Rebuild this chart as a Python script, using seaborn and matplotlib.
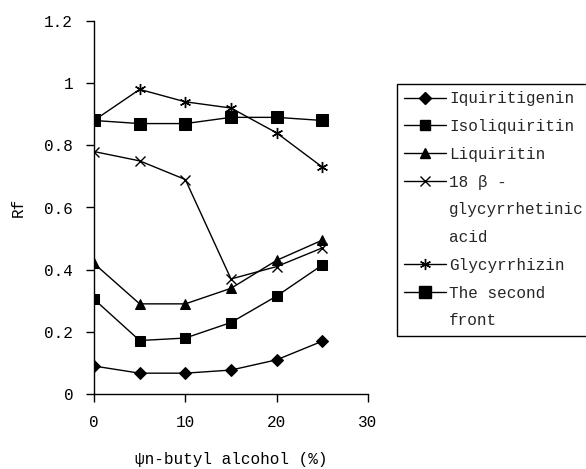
import matplotlib
matplotlib.use("Agg")
import matplotlib.pyplot as plt
import seaborn as sns
import pandas as pd
from matplotlib.lines import Line2D
from matplotlib.ticker import FuncFormatter

x_vals = [0, 5, 10, 15, 20, 25]
iquiritigenin = [0.09, 0.067, 0.067, 0.077, 0.11, 0.17]
isoliquiritin = [0.305, 0.172, 0.18, 0.23, 0.315, 0.415]
liquiritin = [0.42, 0.29, 0.29, 0.34, 0.43, 0.495]
glycyrrhetinic = [0.78, 0.75, 0.69, 0.37, 0.41, 0.47]
glycyrrhizin = [0.88, 0.98, 0.94, 0.92, 0.84, 0.73]
second_front = [0.88, 0.87, 0.87, 0.89, 0.89, 0.88]
series_names = ["Iquiritigenin", "Isoliquiritin", "Liquiritin",
                "18 β -\nglycyrrhetinic\nacid", "Glycyrrhizin", "The second\nfront"]
y_ticks = [0, 0.2, 0.4, 0.6, 0.8, 1.0, 1.2]
x_ticks = [0, 10, 20, 30]

sns.set_theme(style="white")
FONT = ["Liberation Mono", "DejaVu Sans Mono", "DejaVu Sans"]
plt.rcParams["font.family"] = FONT

fig = plt.figure(figsize=(5.86, 4.69), dpi=100)
ax = fig.add_axes([94/586, 1-394/469, (368-94)/586, (394-21)/469])

all_vals = [iquiritigenin, isoliquiritin, liquiritin, glycyrrhetinic, glycyrrhizin, second_front]
styles = [
    dict(marker="D", markersize=6.3, markerfacecolor="black", markeredgecolor="black"),
    dict(marker="s", markersize=6.5, markerfacecolor="black", markeredgecolor="black"),
    dict(marker="^", markersize=7.5, markerfacecolor="black", markeredgecolor="black"),
    dict(marker="x", markersize=7, markeredgecolor="black", markeredgewidth=1.0),
    dict(marker=(6, 2, 0), markersize=8, markeredgecolor="black", markeredgewidth=1.0),
    dict(marker="s", markersize=9, markerfacecolor="black", markeredgecolor="black"),
]

leg_handles = []
leg_labels = []
for name, vals, st in zip(series_names, all_vals, styles):
    df = pd.DataFrame({"x": x_vals, "y": vals})
    sns.lineplot(data=df, x="x", y="y", ax=ax, color="black", linewidth=1.0, **st)
    lines = name.split("\n")
    leg_handles.append(Line2D([0], [0], color="black", linewidth=1.0, **st))
    leg_labels.append(lines[0])
    for extra in lines[1:]:
        leg_handles.append(Line2D([], [], linestyle="none", marker=None))
        leg_labels.append(extra)

ax.set_xlim(0, 30)
ax.set_ylim(0, 1.2)
ax.set_xticks(x_ticks)
ax.set_yticks(y_ticks)
ax.yaxis.set_major_formatter(FuncFormatter(lambda v, p: f"{v:g}"))
ax.tick_params(axis="both", direction="out", length=6, width=1, color="black",
               labelsize=11.5, labelcolor="black", left=True, bottom=True)
ax.tick_params(axis="y", pad=9)
ax.tick_params(axis="x", pad=9)
for s in ["top", "right"]:
    ax.spines[s].set_visible(False)
for s in ["left", "bottom"]:
    ax.spines[s].set_color("black")
    ax.spines[s].set_linewidth(1.0)

ax.set_xlabel("ψn-butyl alcohol (%)", fontsize=11.5, labelpad=16, color="black")
ax.set_ylabel("Rf", fontsize=11.5, labelpad=13, color="black")

x0 = 397/586
y_top = 1 - 84/469
y_bot = 1 - 338/469
leg = fig.legend(handles=leg_handles, labels=leg_labels, loc="upper left",
                 bbox_to_anchor=(x0, y_bot, 1.02 - x0, y_top - y_bot),
                 bbox_transform=fig.transFigure, mode="expand",
                 frameon=True, fancybox=False, edgecolor="black", framealpha=1,
                 fontsize=11.5, handlelength=2.6, handletextpad=0.2,
                 labelspacing=0.8, borderpad=0.45, borderaxespad=0)
leg.get_frame().set_linewidth(1.0)

fig.savefig("out.png", dpi=100)
